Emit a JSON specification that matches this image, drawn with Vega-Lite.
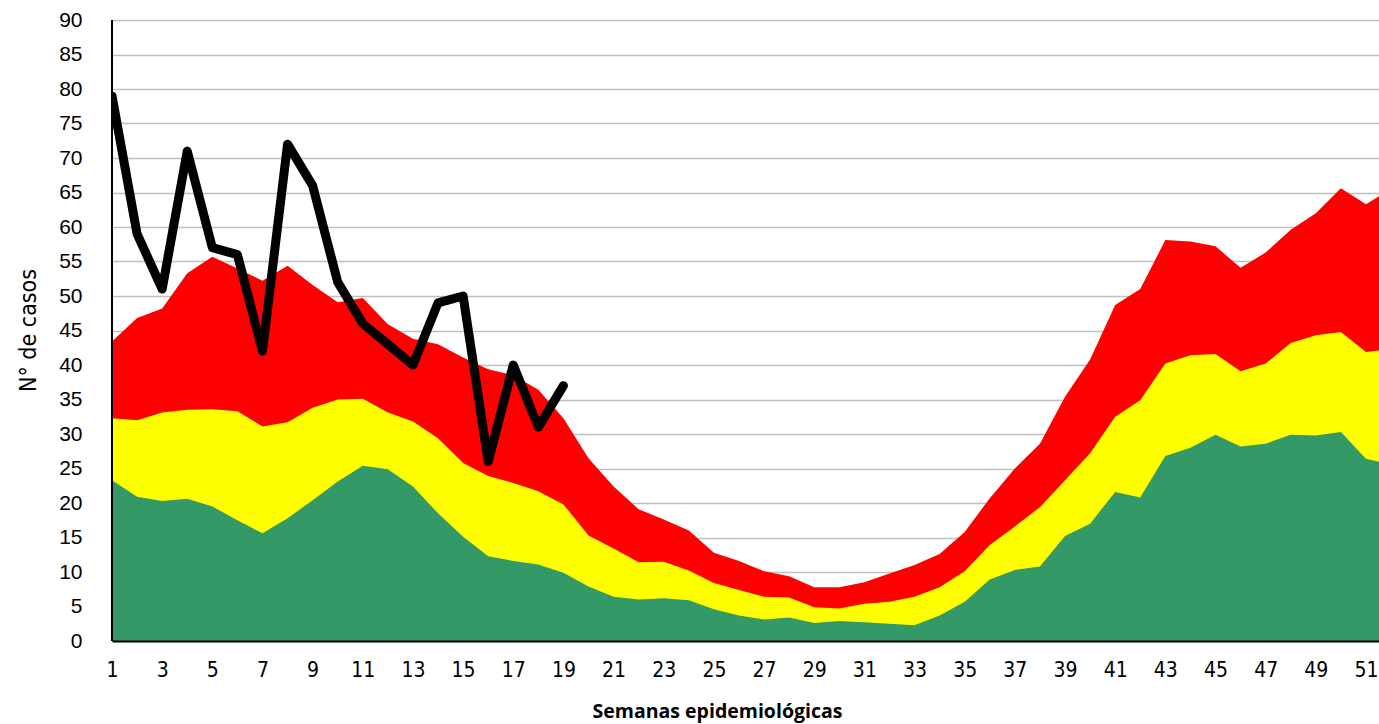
{
  "$schema": "https://vega.github.io/schema/vega-lite/v6.json",
  "autosize": "none",
  "width": 1267,
  "height": 621,
  "padding": {"left": 112, "top": 20, "right": 0, "bottom": 83},
  "background": "white",
  "config": {
    "view": {"stroke": null},
    "axisY": {
      "grid": true, "gridColor": "#BFBFBF", "gridWidth": 1.5,
      "ticks": false, "domain": false,
      "labelFont": "Liberation Sans", "labelFontSize": 21, "labelColor": "black",
      "labelPadding": 30, "labelOverlap": false, "labelFlush": false,
      "titleFont": "DejaVu Sans Condensed, Liberation Sans", "titleFontSize": 23, "titleFontWeight": "normal", "titleColor": "black",
      "titleX": -72, "titleY": 310, "titleAlign": "center", "titleBaseline": "bottom"
    }
  },
  "data": {"values": [
    {"week": 1, "red": 43.4, "yellow": 32.3, "green": 23.3, "casos": 79},
    {"week": 2, "red": 46.8, "yellow": 32.0, "green": 20.9, "casos": 59},
    {"week": 3, "red": 48.2, "yellow": 33.1, "green": 20.3, "casos": 51},
    {"week": 4, "red": 53.3, "yellow": 33.5, "green": 20.6, "casos": 71},
    {"week": 5, "red": 55.7, "yellow": 33.6, "green": 19.5, "casos": 57},
    {"week": 6, "red": 54.0, "yellow": 33.3, "green": 17.5, "casos": 56},
    {"week": 7, "red": 52.2, "yellow": 31.1, "green": 15.6, "casos": 42},
    {"week": 8, "red": 54.4, "yellow": 31.7, "green": 17.8, "casos": 72},
    {"week": 9, "red": 51.6, "yellow": 33.8, "green": 20.4, "casos": 66},
    {"week": 10, "red": 49.1, "yellow": 35.0, "green": 23.1, "casos": 52},
    {"week": 11, "red": 49.7, "yellow": 35.1, "green": 25.4, "casos": 46},
    {"week": 12, "red": 45.9, "yellow": 33.1, "green": 24.9, "casos": 43},
    {"week": 13, "red": 43.8, "yellow": 31.8, "green": 22.4, "casos": 40},
    {"week": 14, "red": 43.0, "yellow": 29.4, "green": 18.5, "casos": 49},
    {"week": 15, "red": 41.1, "yellow": 25.8, "green": 15.1, "casos": 50},
    {"week": 16, "red": 39.4, "yellow": 23.9, "green": 12.3, "casos": 26},
    {"week": 17, "red": 38.5, "yellow": 22.9, "green": 11.6, "casos": 40},
    {"week": 18, "red": 36.4, "yellow": 21.7, "green": 11.1, "casos": 31},
    {"week": 19, "red": 32.3, "yellow": 19.8, "green": 9.9, "casos": 37},
    {"week": 20, "red": 26.5, "yellow": 15.3, "green": 7.9, "casos": null},
    {"week": 21, "red": 22.4, "yellow": 13.4, "green": 6.4, "casos": null},
    {"week": 22, "red": 19.1, "yellow": 11.4, "green": 6.0, "casos": null},
    {"week": 23, "red": 17.6, "yellow": 11.5, "green": 6.2, "casos": null},
    {"week": 24, "red": 16.0, "yellow": 10.2, "green": 5.9, "casos": null},
    {"week": 25, "red": 12.8, "yellow": 8.4, "green": 4.6, "casos": null},
    {"week": 26, "red": 11.6, "yellow": 7.4, "green": 3.7, "casos": null},
    {"week": 27, "red": 10.1, "yellow": 6.4, "green": 3.1, "casos": null},
    {"week": 28, "red": 9.4, "yellow": 6.3, "green": 3.4, "casos": null},
    {"week": 29, "red": 7.8, "yellow": 4.9, "green": 2.6, "casos": null},
    {"week": 30, "red": 7.8, "yellow": 4.7, "green": 2.9, "casos": null},
    {"week": 31, "red": 8.5, "yellow": 5.4, "green": 2.7, "casos": null},
    {"week": 32, "red": 9.8, "yellow": 5.7, "green": 2.5, "casos": null},
    {"week": 33, "red": 11.0, "yellow": 6.4, "green": 2.3, "casos": null},
    {"week": 34, "red": 12.6, "yellow": 7.8, "green": 3.7, "casos": null},
    {"week": 35, "red": 15.8, "yellow": 10.1, "green": 5.7, "casos": null},
    {"week": 36, "red": 20.7, "yellow": 13.9, "green": 8.9, "casos": null},
    {"week": 37, "red": 25.0, "yellow": 16.6, "green": 10.3, "casos": null},
    {"week": 38, "red": 28.6, "yellow": 19.4, "green": 10.8, "casos": null},
    {"week": 39, "red": 35.4, "yellow": 23.3, "green": 15.2, "casos": null},
    {"week": 40, "red": 40.8, "yellow": 27.2, "green": 17.0, "casos": null},
    {"week": 41, "red": 48.7, "yellow": 32.5, "green": 21.6, "casos": null},
    {"week": 42, "red": 51.0, "yellow": 34.9, "green": 20.8, "casos": null},
    {"week": 43, "red": 58.1, "yellow": 40.2, "green": 26.8, "casos": null},
    {"week": 44, "red": 57.9, "yellow": 41.4, "green": 28.0, "casos": null},
    {"week": 45, "red": 57.2, "yellow": 41.6, "green": 29.9, "casos": null},
    {"week": 46, "red": 54.1, "yellow": 39.1, "green": 28.2, "casos": null},
    {"week": 47, "red": 56.3, "yellow": 40.2, "green": 28.6, "casos": null},
    {"week": 48, "red": 59.6, "yellow": 43.2, "green": 29.9, "casos": null},
    {"week": 49, "red": 62.0, "yellow": 44.3, "green": 29.8, "casos": null},
    {"week": 50, "red": 65.6, "yellow": 44.8, "green": 30.3, "casos": null},
    {"week": 51, "red": 63.3, "yellow": 41.9, "green": 26.4, "casos": null},
    {"week": 52, "red": 65.5, "yellow": 42.3, "green": 25.6, "casos": null}
  ]},
  "encoding": {
    "x": {
      "field": "week", "type": "quantitative",
      "scale": {"domain": [1, 51.52], "nice": false, "zero": false},
      "axis": {
        "values": [1,3,5,7,9,11,13,15,17,19,21,23,25,27,29,31,33,35,37,39,41,43,45,47,49,51],
        "grid": false, "ticks": false,
        "domain": true, "domainColor": "black", "domainWidth": 2,
        "zindex": 1,
        "labelFont": "DejaVu Sans Condensed, Liberation Sans", "labelFontSize": 21, "labelColor": "black",
        "labelPadding": 18, "labelFlush": false, "labelOverlap": false,
        "title": "Semanas epidemiológicas",
        "titleFont": "Open Sans", "titleFontSize": 19.5, "titleFontWeight": "bold", "titleColor": "black",
        "titleX": 605, "titleY": 76, "titleAlign": "center", "titleBaseline": "alphabetic"
      }
    }
  },
  "layer": [
    {
      "mark": {"type": "area", "color": "#FF0000", "clip": true, "opacity": 1},
      "encoding": {"y": {"field": "red", "type": "quantitative", "scale": {"domain": [0, 90], "nice": false},
        "axis": {"values": [0,5,10,15,20,25,30,35,40,45,50,55,60,65,70,75,80,85,90], "title": "N° de casos"}}}
    },
    {
      "mark": {"type": "area", "color": "#FFFF00", "clip": true, "opacity": 1},
      "encoding": {"y": {"field": "yellow", "type": "quantitative", "scale": {"domain": [0, 90], "nice": false},
        "axis": {"values": [0,5,10,15,20,25,30,35,40,45,50,55,60,65,70,75,80,85,90], "title": "N° de casos"}}}
    },
    {
      "mark": {"type": "area", "color": "#339966", "clip": true, "opacity": 1},
      "encoding": {"y": {"field": "green", "type": "quantitative", "scale": {"domain": [0, 90], "nice": false},
        "axis": {"values": [0,5,10,15,20,25,30,35,40,45,50,55,60,65,70,75,80,85,90], "title": "N° de casos"}}}
    },
    {
      "mark": {"type": "rule", "color": "black", "strokeWidth": 2, "strokeDash": [5, 4]},
      "encoding": {"y": {"datum": 0, "type": "quantitative", "scale": {"domain": [0, 90], "nice": false},
        "axis": {"values": [0,5,10,15,20,25,30,35,40,45,50,55,60,65,70,75,80,85,90], "title": "N° de casos"}}}
    },
    {
      "mark": {"type": "rule", "color": "black", "strokeWidth": 2},
      "encoding": {"x": {"datum": 1}}
    },
    {
      "transform": [{"filter": "datum.casos != null"}],
      "mark": {"type": "line", "color": "black", "strokeWidth": 9, "strokeJoin": "round", "strokeCap": "round", "clip": true},
      "encoding": {"y": {"field": "casos", "type": "quantitative", "scale": {"domain": [0, 90], "nice": false},
        "axis": {"values": [0,5,10,15,20,25,30,35,40,45,50,55,60,65,70,75,80,85,90], "title": "N° de casos"}}}
    }
  ]
}
